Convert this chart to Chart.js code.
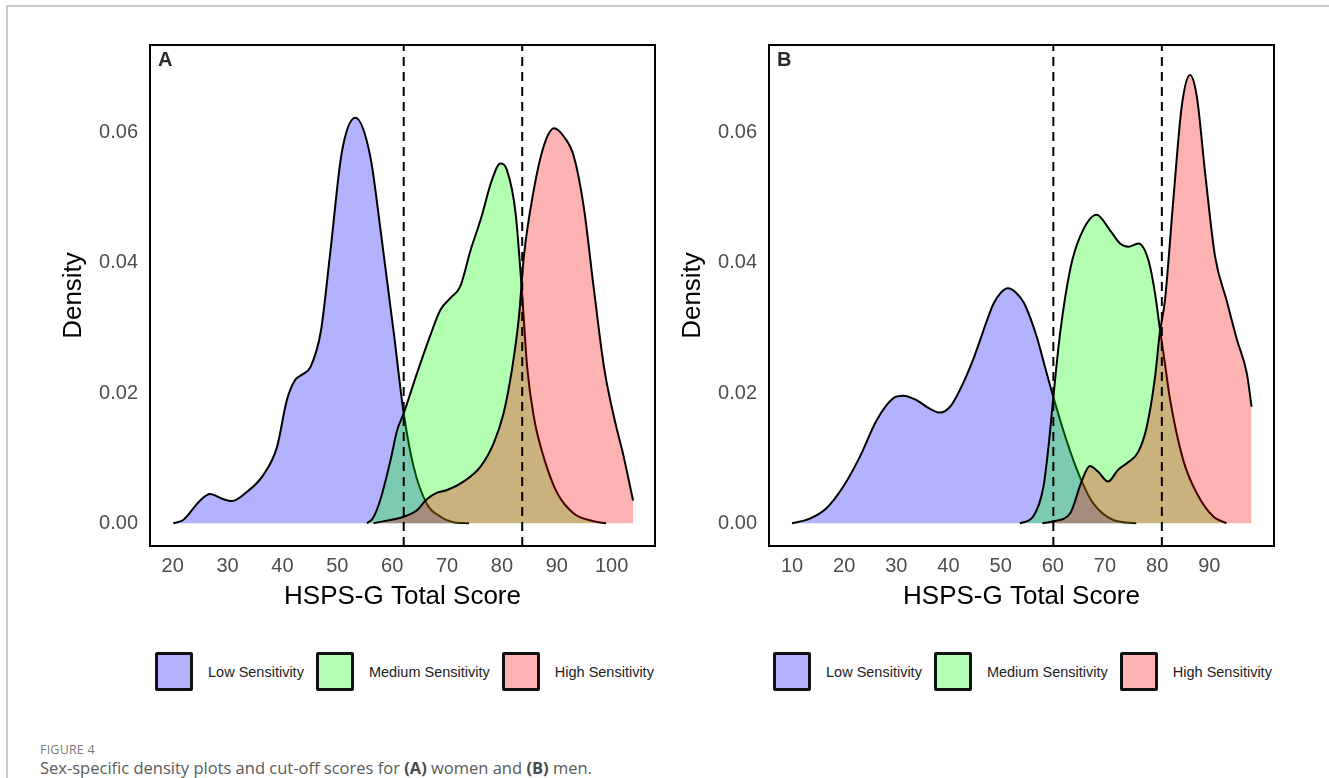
<!DOCTYPE html>
<html>
<head>
<meta charset="utf-8">
<script src="https://cdn.jsdelivr.net/npm/chart.js"></script>
<style>
body { margin:0; background:#fff; width:1329px; height:778px; position:relative; overflow:hidden; font-family:"Liberation Sans", Arial, sans-serif; }
.frame-top { position:absolute; left:6px; top:5px; width:1323px; border-top:2px solid #c8c8c8; }
.frame-left { position:absolute; left:6px; top:5px; height:773px; border-left:2px solid #c8c8c8; }
.chartbox { position:absolute; top:35px; width:615px; height:590px; }
.legend { position:absolute; top:652px; display:flex; align-items:center; }
.key { width:32px; height:33px; border:3px solid #111; border-radius:2px; }
.lab { font-size:14.5px; color:#222; margin:0 12px 0 15px; white-space:nowrap; }
.fig { position:absolute; left:40px; top:741px; font-family:"Open Sans", sans-serif; font-size:12.5px; color:#7a7a7a; letter-spacing:0.2px; }
.cap { position:absolute; left:40px; top:758px; line-height:20px; font-family:"Open Sans", sans-serif; font-size:16.5px; color:#5a5a5a; white-space:nowrap; }
.cap b { color:#4a4a4a; }
</style>
</head>
<body>
<div class="frame-top"></div>
<div class="frame-left"></div>
<div class="chartbox" style="left:50px"><canvas id="chartA"></canvas></div>
<div class="chartbox" style="left:669px"><canvas id="chartB"></canvas></div>
<div class="legend" id="legendA" style="left:155px"></div>
<div class="legend" id="legendB" style="left:773px"></div>
<div class="fig">FIGURE 4</div>
<div class="cap">Sex-specific density plots and cut-off scores for <b>(A)</b> women and <b>(B)</b> men.</div>

<script>
// group names + colours (ggplot fills with alpha 0.3)
const groups = ['Low Sensitivity', 'Medium Sensitivity', 'High Sensitivity'];
const fills = ['rgba(0,0,255,0.3)', 'rgba(0,255,0,0.3)', 'rgba(255,0,0,0.3)'];
const keyFills = ['#b3b3ff', '#b3ffb3', '#ffb3b3'];

// axis ticks
const xTicksA = [20, 30, 40, 50, 60, 70, 80, 90, 100];
const xTicksB = [10, 20, 30, 40, 50, 60, 70, 80, 90];
const yTicks = [0, 0.02, 0.04, 0.06];

// cut-off scores (dashed lines)
const cutsA = [62.1, 83.7];
const cutsB = [60.1, 80.9];

// panel A (women) density curves
const lowAx = [20.1, 21.9, 25.0, 26.8, 28.9, 30.8, 33.5, 36.5, 39.0, 40.8, 42.3, 43.5, 45.1, 47.0, 48.7, 50.8, 53.3, 56.0, 57.8, 60.3, 62.1, 63.9, 66.3, 68.8, 71.0, 74.0];
const lowAy = [0, 0.0005, 0.0035, 0.0045, 0.0038, 0.0034, 0.0048, 0.0074, 0.0117, 0.0189, 0.0220, 0.0228, 0.0240, 0.0295, 0.0415, 0.0569, 0.0623, 0.0564, 0.0456, 0.0292, 0.0169, 0.0087, 0.0030, 0.0010, 0.0002, 0];
const medAx = [55.4, 56.5, 57.8, 59.7, 60.9, 62.1, 64.5, 67.0, 68.8, 70.6, 72.4, 74.3, 76.1, 78.2, 79.7, 80.9, 82.5, 83.7, 84.6, 85.8, 87.6, 90.1, 93.1, 96.7, 99.0];
const medAy = [0, 0.0008, 0.0035, 0.0097, 0.0143, 0.0169, 0.0230, 0.0290, 0.0328, 0.0346, 0.0364, 0.0420, 0.0466, 0.0528, 0.0553, 0.0543, 0.0476, 0.0350, 0.0240, 0.0164, 0.0102, 0.0046, 0.0015, 0.0003, 0];
const highAx = [56.6, 59.0, 62.1, 64.5, 66.3, 68.2, 70.0, 73.0, 76.1, 78.5, 80.3, 81.9, 83.1, 84.0, 85.8, 87.6, 89.5, 91.3, 93.1, 94.9, 96.7, 98.6, 100.4, 102.2, 103.9];
const highAy = [0, 0.0004, 0.0010, 0.0020, 0.0037, 0.0047, 0.0051, 0.0064, 0.0087, 0.0123, 0.0169, 0.0240, 0.0317, 0.0410, 0.0512, 0.0579, 0.0607, 0.0594, 0.0564, 0.0487, 0.0364, 0.0240, 0.0164, 0.0102, 0.0035];

// panel B (men)
const lowBx = [10.0, 13.4, 16.6, 19.8, 23.0, 26.2, 29.4, 31.3, 33.9, 36.4, 38.3, 40.3, 42.2, 44.7, 46.0, 47.3, 48.6, 50.0, 51.4, 53.0, 54.5, 56.9, 58.5, 60.1, 62.6, 65.2, 67.8, 71.6, 76.0];
const lowBy = [0, 0.0007, 0.0023, 0.0056, 0.0102, 0.0158, 0.0192, 0.0196, 0.0189, 0.0176, 0.0170, 0.0179, 0.0205, 0.0251, 0.0280, 0.0310, 0.0337, 0.0354, 0.0361, 0.0354, 0.0338, 0.0287, 0.0240, 0.0194, 0.0128, 0.0071, 0.0030, 0.0005, 0];
const medBx = [53.7, 56.2, 58.2, 59.2, 60.1, 61.4, 63.3, 65.2, 68.4, 70.9, 72.9, 74.5, 76.4, 78.3, 79.6, 80.5, 81.5, 82.5, 85.0, 87.6, 90.8, 93.3];
const medBy = [0, 0.0010, 0.0056, 0.0120, 0.0194, 0.0292, 0.0389, 0.0440, 0.0474, 0.0451, 0.0430, 0.0425, 0.0430, 0.0405, 0.0353, 0.0300, 0.0245, 0.0189, 0.0097, 0.0046, 0.0010, 0];
const highBx = [58.0, 60.1, 63.3, 65.5, 67.1, 68.7, 70.6, 72.5, 74.5, 76.4, 78.0, 79.6, 80.5, 81.5, 83.1, 84.7, 86.3, 87.6, 89.2, 91.1, 93.3, 95.3, 97.2, 98.1];
const highBy = [0, 0.0003, 0.0015, 0.0064, 0.0088, 0.0079, 0.0064, 0.0082, 0.0094, 0.0110, 0.0148, 0.0225, 0.0292, 0.0343, 0.0497, 0.0640, 0.0689, 0.0656, 0.0538, 0.0410, 0.0343, 0.0282, 0.0230, 0.0179];

const yMin = -0.0035, yMax = 0.0735;
const FONT = '"Liberation Sans", Arial, sans-serif';

function pts(xs, ys) {
  return xs.map((x, i) => ({x: x, y: ys[i]}));
}

// black box round the panel + the panel letter
const panelFrame = {
  id: 'panelFrame',
  afterDraw(chart, args, opts) {
    const ctx = chart.ctx, a = chart.chartArea;
    ctx.save();
    ctx.strokeStyle = '#000';
    ctx.lineWidth = 2;
    ctx.strokeRect(a.left, a.top, a.right - a.left, a.bottom - a.top);
    ctx.fillStyle = '#2a2a2a';
    ctx.font = 'bold 20px ' + FONT;
    ctx.textBaseline = 'top';
    ctx.fillText(opts.letter, a.left + 8, a.top + 5);
    ctx.restore();
  }
};

function makeChart(id, letter, xMin, xMax, xTicks, curves, cuts) {
  const datasets = curves.map((c, i) => ({
    label: groups[i],
    data: pts(c[0], c[1]),
    backgroundColor: fills[i],
    borderColor: '#000',
    borderWidth: 2,
    pointRadius: 0,
    fill: 'origin',
    cubicInterpolationMode: 'monotone',
    order: 3 - i
  }));
  cuts.forEach(c => {
    datasets.push({
      label: 'cut-off',
      data: [{x: c, y: yMin}, {x: c, y: yMax}],
      borderColor: '#000',
      borderWidth: 2,
      borderDash: [9, 6],
      pointRadius: 0,
      fill: false,
      order: 0
    });
  });

  return new Chart(document.getElementById(id), {
    type: 'line',
    data: {datasets: datasets},
    plugins: [panelFrame],
    options: {
      animation: false,
      responsive: true,
      maintainAspectRatio: false,
      layout: {padding: {top: 10, right: 10, left: 0, bottom: 0}},
      plugins: {
        legend: {display: false},
        tooltip: {enabled: false},
        panelFrame: {letter: letter}
      },
      scales: {
        x: {
          type: 'linear',
          min: xMin,
          max: xMax,
          afterBuildTicks: ax => { ax.ticks = xTicks.map(v => ({value: v})); },
          afterFit: ax => { ax.height = 79; ax.paddingLeft = 0; ax.paddingRight = 0; },
          grid: {display: false, drawTicks: false},
          border: {display: false},
          ticks: {padding: 8, color: '#4d4d4d', maxRotation: 0, autoSkip: false, font: {size: 20, family: FONT}},
          title: {display: true, text: 'HSPS-G Total Score', color: '#000', font: {size: 26, family: FONT}, padding: {top: 0, bottom: 13}}
        },
        y: {
          min: yMin,
          max: yMax,
          afterBuildTicks: ax => { ax.ticks = yTicks.map(v => ({value: v})); },
          afterFit: ax => { ax.width = 100; ax.paddingTop = 0; ax.paddingBottom = 0; },
          grid: {display: false, drawTicks: false},
          border: {display: false},
          ticks: {padding: 12, color: '#4d4d4d', font: {size: 20, family: FONT}, callback: v => v.toFixed(2)},
          title: {display: true, text: 'Density', color: '#000', font: {size: 26, family: FONT}, padding: {top: 8, bottom: 0}}
        }
      }
    }
  });
}

makeChart('chartA', 'A', 15.86, 107.9, xTicksA,
  [[lowAx, lowAy], [medAx, medAy], [highAx, highAy]], cutsA);
makeChart('chartB', 'B', 5.59, 102.4, xTicksB,
  [[lowBx, lowBy], [medBx, medBy], [highBx, highBy]], cutsB);

// legends under each panel
function makeLegend(id) {
  const el = document.getElementById(id);
  groups.forEach((g, i) => {
    const k = document.createElement('div');
    k.className = 'key';
    k.style.background = keyFills[i];
    const t = document.createElement('span');
    t.className = 'lab';
    t.textContent = g;
    el.appendChild(k);
    el.appendChild(t);
  });
}
makeLegend('legendA');
makeLegend('legendB');
</script>
</body>
</html>
